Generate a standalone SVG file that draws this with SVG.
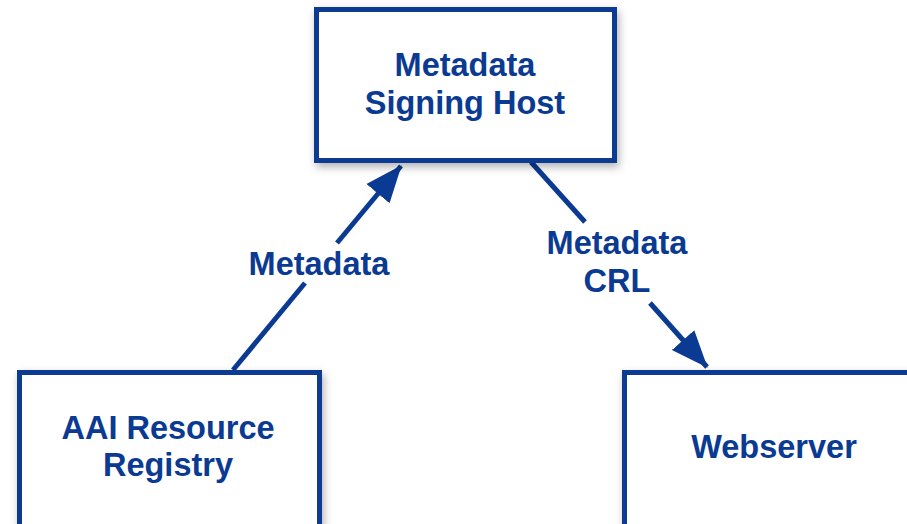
<svg xmlns="http://www.w3.org/2000/svg" width="907" height="524" viewBox="0 0 907 524">
<style>
.box{fill:#fff;stroke:#0b3a92;stroke-width:5;filter:url(#sh)}
.t{font-family:"Liberation Sans",Arial,sans-serif;font-weight:bold;font-size:32.5px;fill:#0b3a92;text-anchor:middle}
.c{stroke:#0b3a92;stroke-width:5;fill:none}
</style>
<defs>
<filter id="sh" x="-10%" y="-10%" width="130%" height="130%">
<feDropShadow dx="2" dy="4" stdDeviation="4" flood-color="#000" flood-opacity="0.3"/>
</filter>
<marker id="ah" markerUnits="userSpaceOnUse" markerWidth="38" markerHeight="32" viewBox="0 0 38 32" refX="36" refY="16" orient="auto">
<path d="M0,1 L37,16 L0,31 Z" fill="#0b3a92"/>
</marker>
</defs>
<rect width="907" height="524" fill="#fff"/>
<g id="connectors">
<line class="c" x1="233" y1="370" x2="305" y2="283"/>
<line class="c" x1="337" y1="243" x2="401" y2="166" marker-end="url(#ah)"/>
<line class="c" x1="531" y1="162" x2="585" y2="222"/>
<line class="c" x1="650" y1="303" x2="707" y2="367" marker-end="url(#ah)"/>
<text class="t" x="319" y="275">Metadata</text>
<text class="t" x="617" y="254">Metadata</text>
<text class="t" x="617" y="292">CRL</text>
</g>
<g id="signing-host">
<rect class="box" x="316.5" y="9.5" width="298" height="151"/>
<text class="t" x="465" y="76">Metadata</text>
<text class="t" x="465" y="114">Signing Host</text>
</g>
<g id="registry">
<rect class="box" x="19.5" y="372.5" width="300" height="170"/>
<text class="t" x="168" y="439">AAI Resource</text>
<text class="t" x="168" y="476">Registry</text>
</g>
<g id="webserver">
<rect class="box" x="624.5" y="372.5" width="300" height="170"/>
<text class="t" x="774" y="458">Webserver</text>
</g>
</svg>
